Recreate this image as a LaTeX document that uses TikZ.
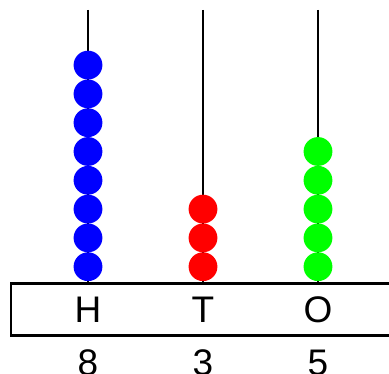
\documentclass[tikz,border=0pt]{standalone}
\usepackage{fontspec}
\setmainfont{Liberation Sans}
\usetikzlibrary{positioning}
\begin{document}
\begin{tikzpicture}[x=1pt, y=-1pt]
        \tikzset{bead/.style={circle, fill=#1, inner sep=0pt, minimum size=28.8pt}}
        \tikzset{rod/.style={line width=2.7pt}}
        \tikzset{digit/.style={font=\fontsize{37}{37}\selectfont, inner sep=0pt}}
        \useasboundingbox (0,0) rectangle (389,374);
        \clip (0,0) rectangle (389,374);
        % rods
        \coordinate (topH) at (88,10);
        \coordinate (topT) at (203,10);
        \coordinate (topO) at (318,10);
        \node[draw, line width=2.5pt, inner sep=0pt, anchor=north west,
              minimum width=400pt, minimum height=52pt] (base) at (9.5,282.5) {};
        \draw[rod] (topH) -- (topH |- base.north);
        \draw[rod] (topT) -- (topT |- base.north);
        \draw[rod] (topO) -- (topO |- base.north);
        % beads
        \foreach \i in {1,...,8}
          \node[bead=blue] (h\i) at (88, 266.7-28.8*\i+28.8) {};
        \foreach \i in {1,...,3}
          \node[bead=red] (t\i) at (203, 266.7-28.8*\i+28.8) {};
        \foreach \i in {1,...,5}
          \node[bead=green] (o\i) at (318, 266.7-28.8*\i+28.8) {};
        % labels
        \node[digit] (H) at (88,310) {H};
        \node[digit] (T) at (203,310) {T};
        \node[digit] (O) at (318,310) {O};
        \node[digit] (n8) at (88,363) {8};
        \node[digit] (n3) at (203,363) {3};
        \node[digit] (n5) at (318,363) {5};
      \end{tikzpicture}
\end{document}
